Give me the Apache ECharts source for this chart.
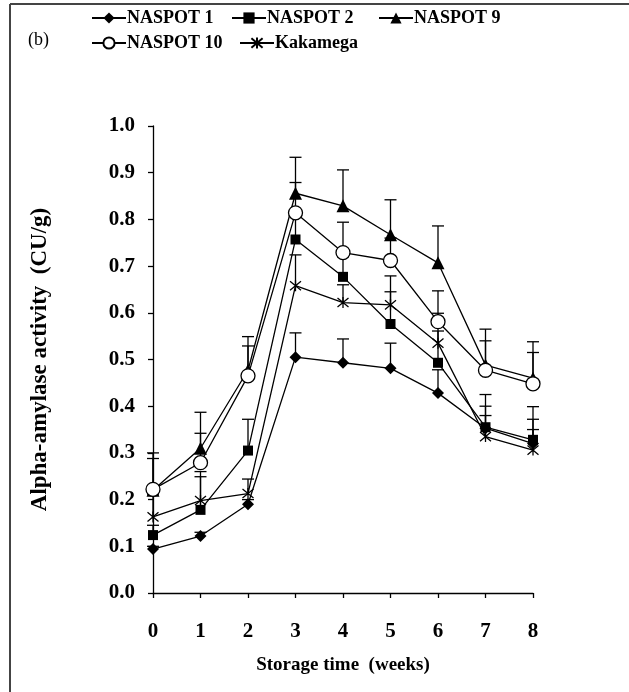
<!DOCTYPE html>
<html>
<head>
<meta charset="utf-8">
<script src="https://cdn.jsdelivr.net/npm/echarts@6/dist/echarts.min.js"></script>
<style>
  html, body { margin: 0; padding: 0; background: #fff; }
  #chart { width: 629px; height: 692px; }
</style>
</head>
<body>
<div id="chart"></div>
<script>
const weeks = [0, 1, 2, 3, 4, 5, 6, 7, 8];
const yTicks = [0, 0.1, 0.2, 0.3, 0.4, 0.5, 0.6, 0.7, 0.8, 0.9, 1.0];

const naspot1 = [0.094, 0.122, 0.190, 0.505, 0.493, 0.481, 0.428, 0.353, 0.320];
const naspot2 = [0.124, 0.178, 0.305, 0.757, 0.677, 0.576, 0.493, 0.355, 0.328];
const naspot9 = [0.220, 0.310, 0.477, 0.856, 0.829, 0.767, 0.707, 0.488, 0.460];
const naspot10 = [0.222, 0.279, 0.465, 0.814, 0.729, 0.712, 0.581, 0.477, 0.448];
const kakamega = [0.163, 0.198, 0.213, 0.658, 0.622, 0.617, 0.535, 0.335, 0.306];

// top of the error bar (mean + SD)
const naspot1Top = [0.100, 0.130, 0.200, 0.557, 0.544, 0.535, 0.478, 0.380, 0.350];
const naspot2Top = [0.145, 0.260, 0.372, 0.814, 0.720, 0.645, 0.561, 0.425, 0.399];
const naspot9Top = [0.300, 0.387, 0.549, 0.933, 0.906, 0.842, 0.786, 0.565, 0.538];
const naspot10Top = [0.288, 0.342, 0.529, 0.879, 0.794, 0.760, 0.647, 0.540, 0.515];
const kakamegaTop = [0.210, 0.249, 0.244, 0.724, 0.660, 0.679, 0.599, 0.400, 0.372];

const FONT = '"Liberation Serif", "DejaVu Serif", serif';
const STAR = 'path://M0,0 L10,10 M10,0 L0,10 M5,-1 L5,11';

const myChart = echarts.init(document.getElementById('chart'));

function pts(vals) {
    return weeks.map((w, i) => [w, vals[i]]);
}

function errData(vals, tops) {
    return weeks.map((w, i) => [w, vals[i], tops[i]]);
}

function errSeries(name, vals, tops) {
    return {
        name: name + ' err',
        type: 'custom',
        z: 1,
        silent: true,
        data: errData(vals, tops),
        renderItem: function (params, api) {
            const p0 = api.coord([api.value(0), api.value(1)]);
            const p1 = api.coord([api.value(0), api.value(2)]);
            const style = {stroke: '#000', lineWidth: 1.3};
            return {
                type: 'group',
                children: [
                    {type: 'line', shape: {x1: p0[0], y1: p0[1], x2: p1[0], y2: p1[1]}, style: style},
                    {type: 'line', shape: {x1: p1[0] - 6, y1: p1[1], x2: p1[0] + 6, y2: p1[1]}, style: style}
                ]
            };
        }
    };
}

function lineSeries(name, vals, symbol, size, fill) {
    return {
        name: name,
        type: 'line',
        z: 3,
        data: pts(vals),
        symbol: symbol,
        symbolSize: size,
        showSymbol: true,
        lineStyle: {color: '#000', width: 1.3},
        itemStyle: {color: fill, borderColor: '#000', borderWidth: fill === '#000' ? 0 : 1.3},
        emphasis: {disabled: true}
    };
}

function legendAt(name, left, top) {
    return {
        data: [name],
        left: left,
        top: top,
        itemWidth: 34,
        itemHeight: 14,
        itemGap: 0,
        selectedMode: false,
        textStyle: {fontFamily: FONT, fontSize: 18, fontWeight: 'bold', color: '#000', padding: [0, 0, 0, -4]}
    };
}

myChart.setOption({
    animation: false,
    backgroundColor: '#fff',
    graphic: [
        {type: 'line', shape: {x1: 10, y1: 4, x2: 629, y2: 4}, style: {stroke: '#444', lineWidth: 2}},
        {type: 'line', shape: {x1: 10, y1: 4, x2: 10, y2: 692}, style: {stroke: '#444', lineWidth: 2}},
        {type: 'text', left: 28, top: 31, style: {text: '(b)', font: '18px ' + FONT, fill: '#000'}}
    ],
    legend: [
        legendAt('NASPOT 1', 86, 4),
        legendAt('NASPOT 2', 226, 4),
        legendAt('NASPOT 9', 373, 4),
        legendAt('NASPOT 10', 86, 29),
        legendAt('Kakamega', 234, 29)
    ],
    grid: {left: 153, right: 96, top: 126, bottom: 99},
    xAxis: {
        type: 'value',
        min: 0,
        max: 8,
        interval: 1,
        name: 'Storage time  (weeks)',
        nameLocation: 'middle',
        nameGap: 63,
        nameTextStyle: {fontFamily: FONT, fontSize: 19, fontWeight: 'bold', color: '#000'},
        axisLine: {lineStyle: {color: '#000', width: 1.3}},
        axisTick: {show: true, inside: false, length: 5, lineStyle: {color: '#000', width: 1.3}},
        axisLabel: {margin: 28, fontFamily: FONT, fontSize: 21, fontWeight: 'bold', color: '#000'},
        splitLine: {show: false}
    },
    yAxis: {
        type: 'value',
        min: yTicks[0],
        max: yTicks[yTicks.length - 1],
        interval: 0.1,
        name: 'Alpha-amylase activity  (CU/g)',
        nameLocation: 'middle',
        nameGap: 101,
        nameTextStyle: {fontFamily: FONT, fontSize: 23, fontWeight: 'bold', color: '#000'},
        axisLine: {show: true, lineStyle: {color: '#000', width: 1.3}},
        axisTick: {show: true, inside: false, length: 5, lineStyle: {color: '#000', width: 1.3}},
        axisLabel: {margin: 18, fontFamily: FONT, fontSize: 21, fontWeight: 'bold', color: '#000',
            formatter: v => v.toFixed(1)},
        splitLine: {show: false}
    },
    series: [
        errSeries('NASPOT 1', naspot1, naspot1Top),
        errSeries('NASPOT 2', naspot2, naspot2Top),
        errSeries('NASPOT 9', naspot9, naspot9Top),
        errSeries('NASPOT 10', naspot10, naspot10Top),
        errSeries('Kakamega', kakamega, kakamegaTop),
        lineSeries('NASPOT 1', naspot1, 'diamond', 12, '#000'),
        lineSeries('NASPOT 2', naspot2, 'rect', 10, '#000'),
        lineSeries('NASPOT 9', naspot9, 'triangle', 13, '#000'),
        lineSeries('NASPOT 10', naspot10, 'circle', 14, '#fff'),
        lineSeries('Kakamega', kakamega, STAR, 11, 'none')
    ]
});
</script>
</body>
</html>
